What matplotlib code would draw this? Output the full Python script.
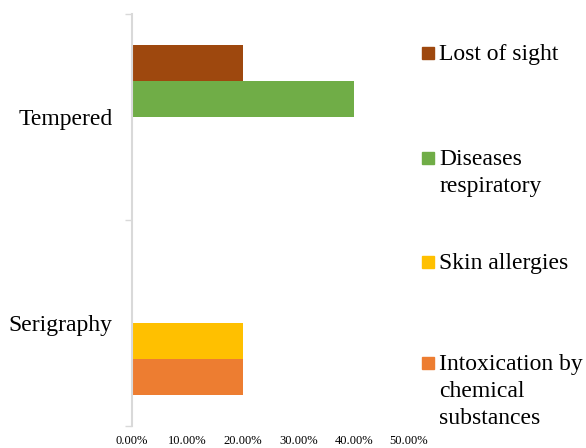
import matplotlib.pyplot as plt
from matplotlib.patches import Rectangle
from matplotlib.ticker import PercentFormatter

# data
categories = ["Serigraphy", "Tempered"]
series_names = ["Intoxication by\nchemical\nsubstances", "Skin allergies",
                "Diseases\nrespiratory", "Lost of sight"]
series_colors = ["#ED7D31", "#FFC000", "#70AD47", "#9E480E"]
intoxication = [0.20, 0.0]
skin_allergies = [0.20, 0.0]
respiratory = [0.0, 0.40]
lost_sight = [0.0, 0.20]
series_values = [intoxication, skin_allergies, respiratory, lost_sight]
x_ticks = [0.0, 0.1, 0.2, 0.3, 0.4, 0.5]

plt.rcParams['font.family'] = ['Liberation Serif', 'DejaVu Serif']

fig = plt.figure(figsize=(5.86, 4.48), dpi=100)
ax = fig.add_axes([0.2253, 0.0491, 0.4727, 0.9197])

bar_h = 0.175
for i, (vals, color) in enumerate(zip(series_values, series_colors)):
    offs = (i - 1.5) * bar_h
    ax.barh([k + offs for k in range(len(categories))], vals, height=bar_h,
            color=color, edgecolor='none')

ax.set_xlim(0, 0.5)
ax.set_ylim(-0.5, 1.5)
ax.set_xticks(x_ticks)
ax.xaxis.set_major_formatter(PercentFormatter(1.0, decimals=2))
ax.tick_params(axis='x', length=0, labelsize=9, pad=6.5)

# category labels sit between the separator ticks
ax.set_yticks([-0.5, 0.5, 1.5])
ax.set_yticklabels([])
ax.set_yticks([0, 1], minor=True)
ax.set_yticklabels(categories, minor=True, fontsize=17)
ax.tick_params(axis='y', which='major', length=5, color='#D9D9D9', width=1)
ax.tick_params(axis='y', which='minor', length=0, pad=14)

for side in ['top', 'right', 'bottom']:
    ax.spines[side].set_visible(False)
ax.spines['left'].set_color('#D9D9D9')
ax.spines['left'].set_linewidth(1.5)

# legend, top to bottom in reverse series order
legend_y = [53, 158, 262, 363]
W, H = 586, 448
for name, color, y in zip(series_names[::-1], series_colors[::-1], legend_y):
    fig.patches.append(Rectangle((422 / W, 1 - (y + 6) / H), 12 / W, 12 / H,
                                 transform=fig.transFigure, color=color))
    fig.text(439 / W, 1 - (y - 9) / H, name, fontsize=17, va='top',
             ha='left', linespacing=1.36)

fig.savefig("out.png", dpi=100)
